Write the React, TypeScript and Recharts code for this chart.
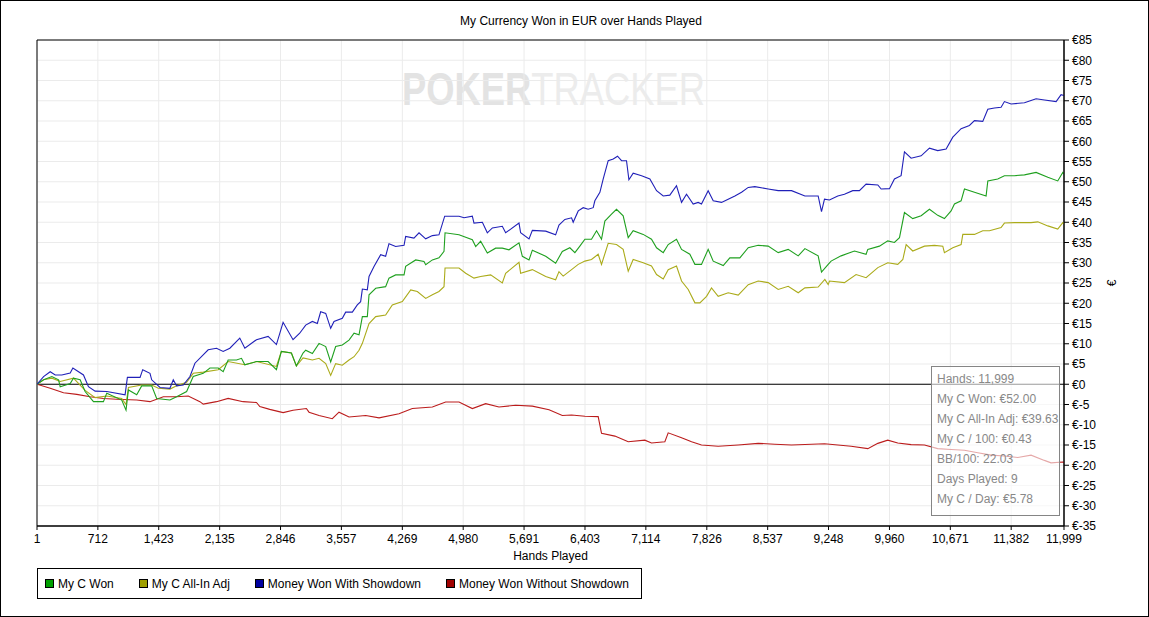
import React from "react";
import {
  LineChart,
  Line,
  XAxis,
  YAxis,
  CartesianGrid,
  ReferenceLine,
  ReferenceArea,
} from "recharts";

type Pt = [number, number];

const handTicks = [1, 712, 1423, 2135, 2846, 3557, 4269, 4980, 5691, 6403, 7114, 7826, 8537, 9248, 9960, 10671, 11382, 11999];
const euroTicks = [-35, -30, -25, -20, -15, -10, -5, 0, 5, 10, 15, 20, 25, 30, 35, 40, 45, 50, 55, 60, 65, 70, 75, 80, 85];

// My C Won
const wonPoints: Pt[] = [
  [1, 0], [78, 1.1], [175, 1.9], [253, 1.1], [272, -0.6], [389, 0.2], [427, 1.5], [505, 1.1], [563, -1.8], [661, -4.3],
  [777, -4.3], [816, -2.2], [991, -3.9], [1041, -6.4], [1069, -1.4], [1166, -2.6], [1224, -0.4], [1341, -0.4], [1399, -3.5],
  [1554, -3.9], [1632, -3.1], [1749, -1.8], [1826, 1.9], [1943, 2.7], [2021, 4.0], [2118, 4.0], [2176, 3.1], [2234, 6.0],
  [2332, 6.0], [2390, 6.4], [2429, 4.8], [2565, 5.6], [2701, 5.6], [2798, 3.6], [2856, 8.1], [2973, 7.7], [3031, 4.5],
  [3109, 7.7], [3140, 8.4], [3218, 7.6], [3296, 10.1], [3374, 9.3], [3432, 5.5], [3490, 9.3], [3568, 9.7], [3646, 10.9],
  [3705, 12.6], [3763, 12.2], [3802, 16.7], [3860, 16.7], [3880, 22.1], [3958, 23.7], [4074, 24.1], [4113, 26.2], [4191, 27.0],
  [4289, 27.0], [4308, 29.1], [4425, 30.7], [4522, 30.3], [4542, 29.5], [4620, 30.7], [4697, 31.2], [4756, 32.8], [4768, 37.4],
  [4931, 36.9], [5087, 35.7], [5126, 34.0], [5184, 35.3], [5262, 32.4], [5359, 33.6], [5437, 33.6], [5515, 33.2], [5632, 34.9],
  [5671, 31.6], [5749, 30.7], [5788, 33.1], [5944, 31.6], [6060, 29.9], [6138, 32.8], [6226, 33.7], [6285, 32.5], [6343, 34.1],
  [6402, 35.8], [6479, 35.8], [6538, 37.9], [6596, 35.8], [6635, 40.3], [6713, 42.0], [6771, 43.2], [6849, 41.6], [6908, 36.2],
  [6966, 37.9], [7083, 37.0], [7180, 35.8], [7239, 33.7], [7317, 32.5], [7375, 34.5], [7472, 35.8], [7531, 33.3], [7628, 32.1],
  [7687, 29.6], [7764, 29.6], [7842, 33.3], [7901, 30.4], [8018, 29.3], [8095, 31.2], [8212, 31.2], [8310, 33.7], [8426, 34.3],
  [8543, 34.1], [8660, 32.5], [8777, 33.3], [8894, 31.7], [8972, 33.5], [9127, 31.7], [9166, 27.7], [9244, 29.6], [9278, 30.4],
  [9395, 31.7], [9551, 32.9], [9687, 32.1], [9707, 33.3], [9843, 34.1], [9940, 35.4], [10018, 35.0], [10077, 36.2], [10135, 42.4],
  [10232, 40.9], [10330, 41.6], [10427, 43.2], [10524, 41.7], [10602, 40.9], [10680, 42.8], [10719, 44.5], [10797, 45.3],
  [10836, 48.2], [10953, 47.4], [11089, 46.5], [11109, 50.2], [11225, 50.7], [11303, 51.5], [11420, 51.5], [11537, 51.7],
  [11673, 52.3], [11810, 51.1], [11926, 50.2], [11985, 52.3], [11999, 52.0],
];

// My C All-In Adj
const allInPoints: Pt[] = [
  [1, 0], [78, 1.1], [175, 1.5], [272, 0.7], [427, 1.5], [563, -1.5], [680, -3.3], [816, -2.9], [991, -3.5], [1041, -5.0],
  [1069, -0.8], [1224, -0.2], [1341, -0.2], [1418, -1.0], [1554, -1.2], [1632, -0.4], [1749, 0.5], [1826, 2.7], [1943, 3.0],
  [2118, 3.6], [2234, 5.6], [2429, 4.8], [2565, 5.6], [2798, 4.4], [2856, 8.1], [2973, 7.7], [3031, 4.5], [3109, 6.5],
  [3218, 6.0], [3296, 6.4], [3374, 5.1], [3432, 2.2], [3490, 5.1], [3568, 4.7], [3646, 6.0], [3705, 6.8], [3763, 8.4],
  [3802, 10.1], [3880, 15.0], [3958, 16.7], [4074, 17.1], [4152, 19.6], [4269, 20.4], [4367, 23.3], [4444, 22.9], [4542, 21.2],
  [4620, 22.1], [4697, 22.9], [4756, 24.1], [4768, 28.7], [4931, 28.7], [5009, 27.4], [5106, 26.2], [5184, 26.6], [5301, 27.0],
  [5437, 25.0], [5476, 27.4], [5632, 30.1], [5651, 27.4], [5788, 28.3], [5944, 26.6], [6060, 25.8], [6099, 27.8], [6148, 26.7],
  [6246, 28.3], [6324, 29.6], [6402, 30.4], [6479, 30.8], [6557, 32.1], [6596, 29.6], [6674, 34.8], [6771, 34.5], [6849, 33.3],
  [6908, 27.9], [6966, 30.8], [7083, 30.0], [7180, 29.2], [7239, 27.1], [7317, 26.0], [7375, 28.3], [7472, 29.2], [7531, 25.5],
  [7609, 23.4], [7687, 20.1], [7745, 20.1], [7823, 21.7], [7881, 23.8], [7959, 21.7], [8076, 22.6], [8193, 22.0], [8310, 24.6],
  [8426, 25.5], [8543, 25.1], [8660, 23.4], [8777, 24.2], [8894, 22.6], [8972, 23.8], [9127, 24.0], [9205, 25.9], [9244, 24.6],
  [9259, 25.5], [9434, 25.1], [9570, 27.1], [9687, 26.3], [9824, 28.8], [9940, 30.0], [10057, 29.6], [10116, 30.8],
  [10155, 34.5], [10232, 32.9], [10369, 34.1], [10486, 34.3], [10583, 34.1], [10602, 32.5], [10700, 33.7], [10797, 34.5],
  [10817, 37.0], [10953, 37.0], [11050, 37.9], [11128, 37.9], [11264, 38.7], [11303, 39.8], [11420, 39.9], [11614, 39.9],
  [11693, 40.1], [11810, 39.1], [11926, 38.3], [11985, 39.9], [11999, 39.6],
];

// Money Won With Showdown
const showdownPoints: Pt[] = [
  [1, 0], [78, 1.9], [155, 3.1], [214, 2.3], [291, 2.3], [389, 2.8], [420, 4.0], [544, 2.3], [602, -0.6], [680, -1.7],
  [816, -1.8], [1030, -2.6], [1057, 1.7], [1205, 1.7], [1236, 3.6], [1321, 2.7], [1341, 1.1], [1438, -0.8], [1554, -1.0],
  [1593, 1.1], [1632, -0.4], [1710, -0.2], [1788, 1.9], [1846, 5.2], [2001, 8.5], [2098, 8.9], [2176, 8.1], [2254, 8.9],
  [2370, 11.4], [2429, 8.9], [2565, 11.0], [2701, 11.8], [2798, 9.8], [2876, 15.3], [2992, 11.0], [3070, 12.6], [3140, 14.6],
  [3218, 15.5], [3276, 15.0], [3315, 17.9], [3374, 17.5], [3432, 13.8], [3471, 15.5], [3568, 16.3], [3607, 17.8], [3685, 17.8],
  [3743, 19.6], [3782, 20.4], [3802, 23.5], [3860, 23.3], [3880, 26.6], [3938, 29.1], [4016, 32.0], [4074, 31.6], [4113, 34.7],
  [4191, 34.0], [4289, 34.3], [4308, 36.5], [4405, 36.1], [4464, 37.4], [4542, 35.9], [4620, 36.7], [4697, 36.9], [4764, 41.5],
  [4931, 41.5], [4990, 41.1], [5087, 41.5], [5106, 39.8], [5204, 40.0], [5262, 37.4], [5321, 38.6], [5437, 39.0], [5476, 37.4],
  [5632, 39.8], [5651, 37.4], [5749, 35.9], [5788, 38.0], [5944, 37.8], [6060, 36.9], [6099, 39.3], [6168, 40.7], [6246, 41.1],
  [6265, 40.0], [6324, 42.8], [6382, 43.6], [6440, 43.2], [6499, 43.6], [6518, 45.3], [6577, 47.4], [6616, 50.7], [6674, 55.2],
  [6733, 55.6], [6783, 56.3], [6830, 55.2], [6888, 55.2], [6916, 50.5], [6966, 52.1], [7064, 51.5], [7161, 50.7], [7239, 47.8],
  [7317, 46.5], [7394, 46.7], [7472, 49.0], [7531, 44.9], [7589, 46.9], [7667, 44.5], [7725, 44.9], [7764, 44.5], [7842, 47.8],
  [7901, 45.3], [7998, 44.9], [8076, 45.7], [8154, 46.5], [8232, 47.4], [8310, 48.6], [8387, 48.8], [8543, 48.2], [8660, 47.8],
  [8816, 47.8], [8972, 46.5], [9127, 46.5], [9166, 42.6], [9201, 45.7], [9259, 45.5], [9356, 46.5], [9434, 46.9], [9531, 47.8],
  [9609, 47.8], [9687, 49.4], [9824, 49.2], [9863, 48.2], [9960, 48.3], [10018, 50.7], [10096, 51.5], [10135, 57.4],
  [10213, 55.8], [10330, 56.4], [10427, 58.3], [10524, 57.7], [10622, 58.1], [10700, 61.0], [10797, 63.1], [10894, 63.9],
  [10953, 65.1], [11050, 64.9], [11109, 67.9], [11186, 68.2], [11264, 68.4], [11303, 69.8], [11381, 69.2], [11537, 69.5],
  [11673, 70.5], [11771, 70.2], [11907, 69.8], [11965, 71.5], [11999, 71.3],
];

// Money Won Without Showdown
const nonShowdownPoints: Pt[] = [
  [1, 0], [155, -1.0], [311, -2.1], [466, -2.5], [622, -3.1], [777, -3.5], [933, -3.7], [1166, -3.9], [1321, -4.3],
  [1477, -3.1], [1632, -3.1], [1768, -2.9], [1904, -4.3], [1943, -4.9], [2098, -4.3], [2234, -3.5], [2409, -4.3], [2565, -4.5],
  [2604, -5.5], [2720, -6.2], [2876, -7.0], [2992, -6.4], [3148, -6.0], [3179, -6.9], [3296, -7.7], [3451, -8.5], [3529, -6.9],
  [3646, -8.1], [3841, -7.7], [3997, -8.3], [4230, -7.3], [4386, -6.0], [4620, -5.6], [4775, -4.4], [4931, -4.4], [5087, -6.0],
  [5243, -4.8], [5398, -5.6], [5593, -5.2], [5788, -5.4], [5983, -6.3], [6138, -7.7], [6246, -7.6], [6402, -7.9], [6557, -8.0],
  [6596, -12.1], [6752, -12.8], [6908, -14.2], [7102, -13.8], [7180, -14.5], [7336, -14.2], [7375, -12.0], [7531, -13.2],
  [7648, -14.2], [7764, -15.0], [7959, -15.3], [8193, -15.0], [8426, -14.6], [8621, -14.8], [8816, -15.0], [9050, -14.8],
  [9201, -14.7], [9356, -15.0], [9512, -15.3], [9707, -15.9], [9824, -14.6], [9940, -13.8], [10057, -14.5], [10213, -14.9],
  [10369, -15.0], [10524, -15.9], [10680, -16.1], [10836, -16.3], [10992, -16.9], [11148, -17.5], [11303, -17.7], [11459, -18.1],
  [11614, -17.5], [11770, -18.8], [11848, -19.4], [11985, -19.2], [11999, -19.3],
];

const series = [
  { name: "My C Won", points: wonPoints, stroke: "#1fa01f", swatch: "#00a000" },
  { name: "My C All-In Adj", points: allInPoints, stroke: "#abab1a", swatch: "#a0a000" },
  { name: "Money Won With Showdown", points: showdownPoints, stroke: "#2020b8", swatch: "#0000a0" },
  { name: "Money Won Without Showdown", points: nonShowdownPoints, stroke: "#bb1c1c", swatch: "#a00000" },
];
// draw order: red, olive, green, blue
const drawOrder = [3, 1, 0, 2];

const summaryLines = [
  "Hands: 11,999",
  "My C Won: €52.00",
  "My C All-In Adj: €39.63",
  "My C / 100: €0.43",
  "BB/100: 22.03",
  "Days Played: 9",
  "My C / Day: €5.78",
];

const FONT = "'Liberation Sans', Arial, sans-serif";

const toRows = (pts: Pt[]) => pts.map(([h, v]) => ({ h, v }));

export default function App() {
  return (
    <div
      style={{
        position: "absolute",
        left: 0,
        top: 0,
        width: 1149,
        height: 617,
        background: "#fff",
        fontFamily: FONT,
        overflow: "hidden",
      }}
    >
      {/* watermark */}
      <svg width={1149} height={617} style={{ position: "absolute", left: 0, top: 0 }}>
        <text x={402} y={105} fontSize={46} fontFamily={FONT} textLength={303} lengthAdjust="spacingAndGlyphs">
          <tspan fontWeight="bold" fill="#e3e3e3">POKER</tspan>
          <tspan fill="#ececec">TRACKER</tspan>
        </text>
      </svg>

      <div style={{ position: "absolute", left: 0, top: 0 }}>
        <LineChart width={1149} height={617} margin={{ top: 40, left: 37, right: 0, bottom: 56 }}>
          <CartesianGrid stroke="#ebebeb" />
          <XAxis
            dataKey="h"
            type="number"
            domain={[1, 11999]}
            ticks={handTicks}
            interval={0}
            allowDataOverflow
            height={35}
            tickSize={4}
            tickMargin={4}
            stroke="#000"
            tick={{ fill: "#000", fontSize: 12, fontFamily: FONT }}
            tickFormatter={(v: number) => v.toLocaleString("en-US")}
            label={{ value: "Hands Played", position: "insideBottom", offset: 1, fill: "#000", fontSize: 12, fontFamily: FONT }}
          />
          <YAxis
            type="number"
            orientation="right"
            domain={[-35, 85]}
            ticks={euroTicks}
            interval={0}
            allowDataOverflow
            width={85}
            tickSize={5}
            tickMargin={3}
            stroke="#000"
            tick={{ fill: "#000", fontSize: 12, fontFamily: FONT }}
            tickFormatter={(v: number) => `€${v}`}
            label={(p: any) => {
              const vb = p.viewBox || {};
              const cx = vb.x + 48;
              const cy = vb.y + vb.height / 2;
              return (
                <text x={cx} y={cy} transform={`rotate(-90 ${cx} ${cy})`} textAnchor="middle" dominantBaseline="central" fontSize={12} fontFamily={FONT} fill="#000">
                  €
                </text>
              );
            }}
          />
          <ReferenceArea x1={1} x2={11999} y1={-35} y2={85} fill="none" stroke="#000" strokeWidth={1} />
          <ReferenceLine y={0} stroke="#000" strokeWidth={1} />
          {drawOrder.map((i) => {
            const s = series[i];
            return (
              <Line
                key={s.name}
                data={toRows(s.points)}
                dataKey="v"
                name={s.name}
                type="linear"
                stroke={s.stroke}
                strokeWidth={1.1}
                dot={false}
                activeDot={false}
                isAnimationActive={false}
              />
            );
          })}
        </LineChart>
      </div>

      {/* title */}
      <div
        style={{
          position: "absolute",
          left: 0,
          width: 1162,
          top: 14,
          textAlign: "center",
          fontSize: 12,
          color: "#000",
          lineHeight: "14px",
        }}
      >
        My Currency Won in EUR over Hands Played
      </div>

      {/* summary box */}
      <div
        style={{
          position: "absolute",
          left: 931,
          top: 366,
          width: 129,
          height: 150,
          boxSizing: "border-box",
          border: "1px solid #858585",
          background: "rgba(255,255,255,0.62)",
          paddingLeft: 5,
          paddingTop: 5,
        }}
      >
        {summaryLines.map((t) => (
          <div key={t} style={{ fontSize: 12, color: "#888", height: 20, lineHeight: "15px", whiteSpace: "nowrap" }}>
            {t}
          </div>
        ))}
      </div>

      {/* legend */}
      <div
        style={{
          position: "absolute",
          left: 37,
          top: 568,
          width: 605,
          height: 31,
          boxSizing: "border-box",
          border: "1px solid #000",
          display: "flex",
          alignItems: "center",
          paddingLeft: 7,
          fontSize: 12,
        }}
      >
        {series.map((s) => (
          <div key={s.name} style={{ display: "flex", alignItems: "center", marginRight: 25 }}>
            <span
              style={{
                display: "inline-block",
                width: 9,
                height: 9,
                boxSizing: "border-box",
                border: "1px solid #000",
                background: s.swatch,
                marginRight: 4,
              }}
            />
            <span style={{ color: "#000", whiteSpace: "nowrap" }}>{s.name}</span>
          </div>
        ))}
      </div>

      {/* outer frame */}
      <div
        style={{
          position: "absolute",
          left: 0,
          top: 0,
          width: 1149,
          height: 617,
          boxSizing: "border-box",
          border: "1px solid #000",
          pointerEvents: "none",
        }}
      />
    </div>
  );
}
